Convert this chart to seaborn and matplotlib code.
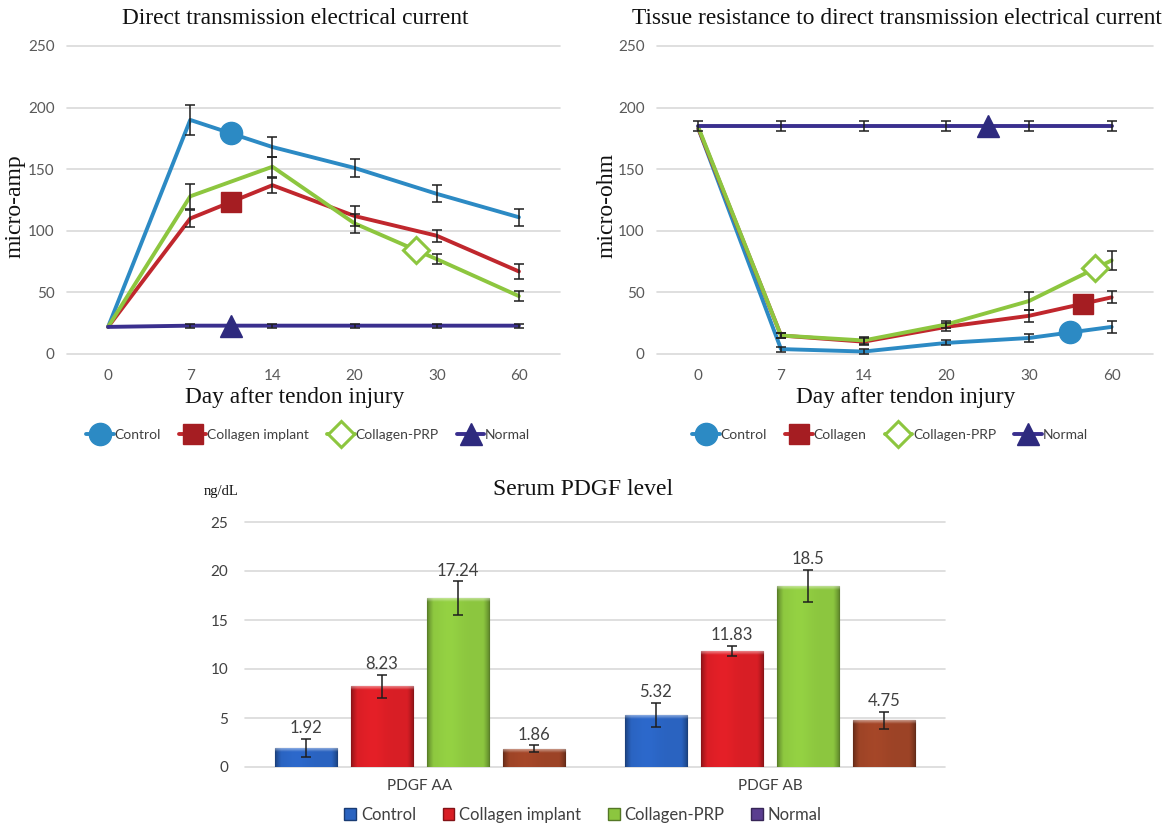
import numpy as np
import pandas as pd
import matplotlib
matplotlib.use("Agg")
import matplotlib.pyplot as plt
import matplotlib.colors as mcolors
from matplotlib.lines import Line2D
from matplotlib.patches import Patch
import seaborn as sns

# ---------------------------------------------------------------- data
days = ["0", "7", "14", "20", "30", "60"]

# Direct transmission electrical current (micro-amp), mean and SE
current_control = [22, 190, 168, 151, 130, 111]
current_control_err = [0, 12, 8, 7, 7, 7]
current_collagen = [22, 110, 137, 112, 96, 67]
current_collagen_err = [0, 7, 6, 8, 5, 6]
current_prp = [22, 128, 152, 106, 77, 47]
current_prp_err = [0, 10, 8, 8, 4, 4]
current_normal = [22, 23, 23, 23, 23, 23]
current_normal_err = [0, 1.5, 1.5, 1.5, 1.5, 1.5]

# Tissue resistance to direct transmission electrical current (micro-ohm)
resist_control = [183, 4, 2, 9, 13, 22]
resist_control_err = [0, 2, 2, 2, 3, 5]
resist_collagen = [183, 15, 10, 22, 31, 46]
resist_collagen_err = [0, 2, 3, 3, 5, 5]
resist_prp = [184, 15, 11, 24, 43, 76]
resist_prp_err = [0, 2, 3, 3, 7, 8]
resist_normal = [185, 185, 185, 185, 185, 185]
resist_normal_err = [4, 4, 4, 4, 4, 4]

# Serum PDGF level (ng/dL)
pdgf_assays = ["PDGF AA", "PDGF AB"]
pdgf_control = [1.92, 5.32]
pdgf_control_err = [0.95, 1.25]
pdgf_collagen = [8.23, 11.83]
pdgf_collagen_err = [1.2, 0.55]
pdgf_prp = [17.24, 18.5]
pdgf_prp_err = [1.7, 1.65]
pdgf_normal = [1.86, 4.75]
pdgf_normal_err = [0.35, 0.9]

# where each series' identifying marker sits along its line (category index)
current_marker_at = [1.5, 1.5, 3.75, 1.5]
resist_marker_at = [4.5, 4.65, 4.8, 3.5]

# ---------------------------------------------------------------- style
sns.set_theme(style="white")
plt.rcParams["font.family"] = ["Lato", "DejaVu Sans"]
SERIF = ["Liberation Serif", "DejaVu Serif"]
TICK_COLOR = "#595959"
GRID_COLOR = "#d9d9d9"
TEXT_COLOR = "#111111"

line_colors = ["#2c8ac4", "#c0272d", "#8dc63f", "#3a2f8e"]
marker_styles = [
    dict(marker="o", ms=16, mfc="#2c8ac4", mec="#2c8ac4", mew=1),
    dict(marker="s", ms=14, mfc="#a51d22", mec="#a51d22", mew=1),
    dict(marker="D", ms=13, mfc="white", mec="#8dc63f", mew=2.2),
    dict(marker="^", ms=16, mfc="#2e2a7e", mec="#2e2a7e", mew=1),
]

fig = plt.figure(figsize=(11.69, 8.24), dpi=100)
W, H = 1169.0, 824.0


def axes_px(x0, x1, ytop, ybot):
    return fig.add_axes([x0 / W, 1 - ybot / H, (x1 - x0) / W, (ybot - ytop) / H])


def style_axes(ax, ymax, step, ytick_pad, xtick_pad):
    ax.set_ylim(0, ymax)
    ax.set_yticks(np.arange(0, ymax + 1, step))
    ax.yaxis.grid(True, color=GRID_COLOR, lw=1.2)
    ax.xaxis.grid(False)
    for gl in ax.get_ygridlines():
        gl.set_clip_on(False)
    for s in ax.spines.values():
        s.set_visible(False)
    ax.tick_params(axis="both", length=0, colors=TICK_COLOR, labelsize=11)
    ax.tick_params(axis="y", pad=ytick_pad)
    ax.tick_params(axis="x", pad=xtick_pad)


def line_panel(ax, series, errors, labels, marker_at):
    pos = np.arange(len(days))
    frames = []
    for name, vals in zip(labels, series):
        frames.append(pd.DataFrame({"pos": pos, "value": vals, "group": name}))
    df = pd.concat(frames, ignore_index=True)
    sns.lineplot(data=df, x="pos", y="value", hue="group", hue_order=labels,
                 palette=line_colors, linewidth=2.8, legend=False,
                 errorbar=None, ax=ax, sort=False)
    for vals, err in zip(series, errors):
        err = np.asarray(err, dtype=float)
        keep = err > 0
        ax.errorbar(pos[keep], np.asarray(vals)[keep], yerr=err[keep], fmt="none",
                    ecolor="#1e1e1e", elinewidth=1.1, capsize=3.5, capthick=1.1,
                    zorder=4)
    for vals, at, mstyle in zip(series, marker_at, marker_styles):
        ax.plot([at], [np.interp(at, pos, vals)], linestyle="none", zorder=5,
                **mstyle)
    ax.set_xlim(-0.5, len(days) - 0.5)
    ax.set_xticks(pos)
    ax.set_xticklabels(days)
    style_axes(ax, 250, 50, 9, 11)
    ax.set_xlabel("")
    ax.set_ylabel("")
    return [Line2D([0], [0], color=c, lw=2.8, **m)
            for c, m in zip(line_colors, marker_styles)]


def panel_text(title, title_x, ylabel, ylabel_x, xlabel_x):
    fig.text(title_x / W, 1 - 19 / H, title, family=SERIF, fontsize=16.8,
             ha="center", va="center", color=TEXT_COLOR)
    fig.text(ylabel_x / W, 1 - 206 / H, ylabel, family=SERIF, fontsize=17,
             rotation=90, ha="center", va="center", color=TEXT_COLOR)
    fig.text(xlabel_x / W, 1 - 398 / H, "Day after tendon injury", family=SERIF,
             fontsize=16.8, ha="center", va="center", color=TEXT_COLOR)


# ---------------------------------------------------------------- left panel
current_labels = ["Control", "Collagen implant", "Collagen-PRP", "Normal"]
ax1 = axes_px(67, 560, 46, 354)
h1 = line_panel(ax1,
                [current_control, current_collagen, current_prp, current_normal],
                [current_control_err, current_collagen_err, current_prp_err,
                 current_normal_err],
                current_labels, current_marker_at)
panel_text("Direct transmission electrical current", 295, "micro-amp", 15, 295)
fig.legend(h1, current_labels, loc="center",
           bbox_to_anchor=(308 / W, 1 - 435 / H), ncol=4, frameon=False,
           fontsize=10, handlelength=2.0, handletextpad=0.05,
           columnspacing=1.3, labelcolor="#404040")

# ---------------------------------------------------------------- right panel
resist_labels = ["Control", "Collagen", "Collagen-PRP", "Normal"]
ax2 = axes_px(657, 1153, 46, 354)
h2 = line_panel(ax2,
                [resist_control, resist_collagen, resist_prp, resist_normal],
                [resist_control_err, resist_collagen_err, resist_prp_err,
                 resist_normal_err],
                resist_labels, resist_marker_at)
panel_text("Tissue resistance to direct transmission electrical current", 897,
           "micro-ohm", 607, 906)
fig.legend(h2, resist_labels, loc="center",
           bbox_to_anchor=(890 / W, 1 - 435 / H), ncol=4, frameon=False,
           fontsize=10, handlelength=2.0, handletextpad=0.05,
           columnspacing=1.3, labelcolor="#404040")

# ---------------------------------------------------------------- bar panel
ax3 = axes_px(245, 945, 522, 767)
bar_groups = ["Control", "Collagen implant", "Collagen-PRP", "Normal"]
bar_colors = ["#2a63c0", "#d81e25", "#8cc63f", "#9c4326"]
legend_colors = ["#2a63c0", "#d81e25", "#8cc63f", "#5a3d8f"]
bar_vals = [pdgf_control, pdgf_collagen, pdgf_prp, pdgf_normal]
bar_errs = [pdgf_control_err, pdgf_collagen_err, pdgf_prp_err, pdgf_normal_err]

bdf = pd.concat([pd.DataFrame({"assay": pdgf_assays, "value": v, "group": g})
                 for g, v in zip(bar_groups, bar_vals)], ignore_index=True)
sns.barplot(data=bdf, x="assay", y="value", hue="group", hue_order=bar_groups,
            palette=bar_colors, width=0.87, gap=0.18, errorbar=None,
            legend=False, ax=ax3, saturation=1)
style_axes(ax3, 25, 5, 12, 9)
ax3.set_xlabel("")
ax3.set_ylabel("")
ax3.tick_params(axis="both", colors="#404040", labelsize=11)
xlim = ax3.get_xlim()


def face_shading(rgb, n=96):
    """Bevelled bar face: flat centre, darker rim on left and right."""
    t = np.linspace(0, 1, n)
    d = np.minimum(t, 1 - t) / 0.1
    light = 0.62 + 0.38 * np.clip(d, 0, 1) ** 0.7
    light = light * (1 + 0.06 * np.exp(-((t - 0.35) / 0.2) ** 2))
    return np.clip(rgb[None, None, :] * light[None, :, None], 0, 1)


for container, color, vals, errs in zip(ax3.containers, bar_colors, bar_vals,
                                        bar_errs):
    rgb = np.array(mcolors.to_rgb(color))
    for rect, v, e in zip(container, vals, errs):
        x0, w, h = rect.get_x(), rect.get_width(), rect.get_height()
        rect.set_edgecolor(tuple(rgb * 0.5))
        rect.set_linewidth(0.8)
        img = ax3.imshow(face_shading(rgb), extent=[x0, x0 + w, 0, h],
                         aspect="auto", zorder=rect.get_zorder() + 0.1,
                         interpolation="bilinear")
        img.set_clip_path(rect)
        # lighter bevel along the top of the bar
        bevel = np.ones((12, 1, 4))
        bevel[:, 0, 3] = np.linspace(0.45, 0.0, 12)
        top = ax3.imshow(bevel, extent=[x0, x0 + w, h - 0.4, h], aspect="auto",
                         zorder=rect.get_zorder() + 0.2,
                         interpolation="bilinear")
        top.set_clip_path(rect)
        cx = x0 + w / 2
        ax3.errorbar([cx], [v], yerr=[e], fmt="none", ecolor="#1e1e1e",
                     elinewidth=1.1, capsize=3.5, capthick=1.1, zorder=6)
        ax3.annotate(f"{v:g}", xy=(cx, v + e), xytext=(0, 2),
                     textcoords="offset points", ha="center", va="bottom",
                     fontsize=12, color="#404040", zorder=7)

ax3.set_xlim(xlim)
ax3.set_ylim(0, 25)
fig.text(583 / W, 1 - 490 / H, "Serum PDGF level", family=SERIF, fontsize=17,
         ha="center", va="center", color=TEXT_COLOR)
fig.text(221 / W, 1 - 492 / H, "ng/dL", family=SERIF, fontsize=10.5,
         ha="center", va="center", color=TEXT_COLOR)
bar_handles = [Patch(facecolor=c, edgecolor=tuple(np.array(mcolors.to_rgb(c)) * 0.6))
               for c in legend_colors]
fig.legend(bar_handles, bar_groups, loc="center",
           bbox_to_anchor=(583 / W, 1 - 815 / H), ncol=4, frameon=False,
           fontsize=12, handlelength=0.7, handleheight=0.7, handletextpad=0.3,
           columnspacing=1.6, labelcolor="#404040")

fig.savefig("out.png", dpi=100, facecolor="white")
